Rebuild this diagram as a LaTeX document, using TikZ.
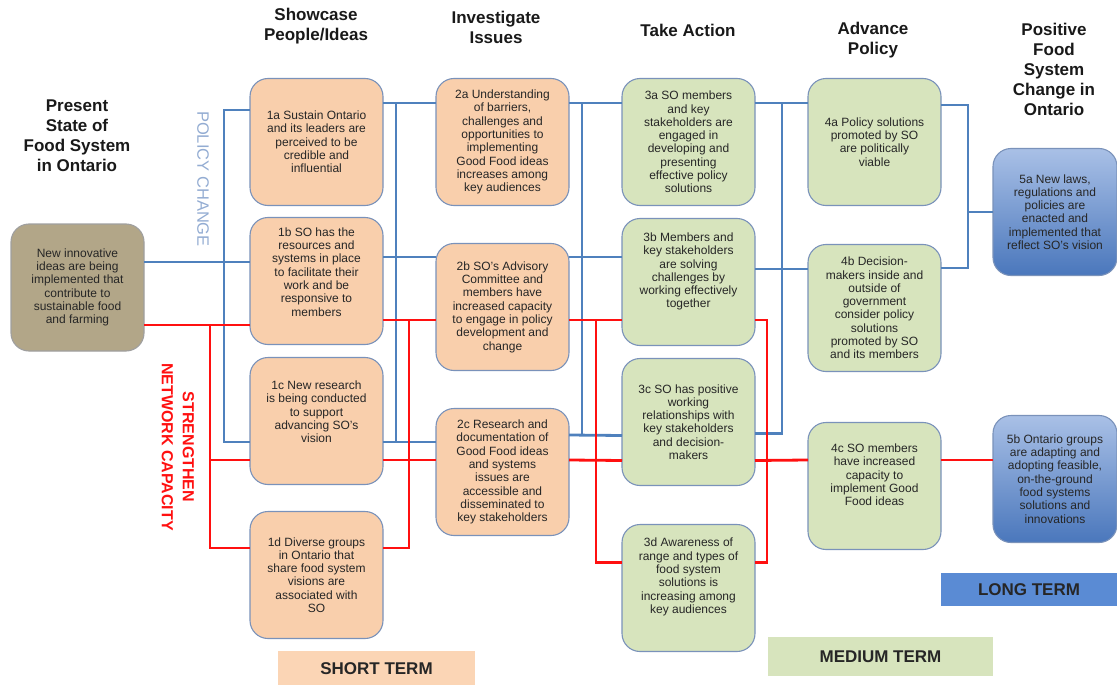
\documentclass[tikz,border=0pt]{standalone}
\usepackage{fontspec}
\setmainfont{Liberation Sans}
\usepackage{tikz}
\usetikzlibrary{positioning}

\definecolor{peach}{HTML}{F9CFAC}
\definecolor{sage}{HTML}{D7E4BD}
\definecolor{khaki}{HTML}{B2A688}
\definecolor{edge}{HTML}{7A92BA}
\definecolor{linkblue}{HTML}{4F81BD}
\definecolor{linkred}{HTML}{FF1010}
\definecolor{skyhi}{HTML}{A9C0E6}
\definecolor{skylo}{HTML}{4A77BC}
\definecolor{termblue}{HTML}{5A8BD4}
\definecolor{termpeach}{HTML}{FBD5B5}
\definecolor{polblue}{HTML}{93ACD2}

\begin{document}
\begin{tikzpicture}[x=1pt,y=-1pt,
  outbox/.style={draw=edge,line width=1.1pt,rounded corners=18pt,minimum width=133pt,minimum height=127pt,inner sep=2pt,outer sep=0pt,align=center,font=\fontsize{12}{13.3}\selectfont,text=black!85},
  shortbox/.style={outbox,fill=peach},
  midbox/.style={outbox,fill=sage},
  longbox/.style={outbox,minimum width=124pt,top color=skyhi,bottom color=skylo},
  colhead/.style={align=center,font=\fontsize{17}{20}\selectfont\bfseries,text=black!90},
  termbar/.style={inner sep=0pt,font=\fontsize{17}{20}\selectfont\bfseries,text=black!85},
  bline/.style={linkblue,line width=2.8pt},
  rline/.style={linkred,line width=2.8pt}]
\useasboundingbox (0,0) rectangle (1117,685);

\node[colhead] (hpres) at (77,135.5) {Present\\State of\\Food System\\in Ontario};
\node[colhead] (hshow) at (316,26.5) {Showcase\\People/Ideas};
\node[colhead] (hinv) at (496,27.5) {Investigate\\Issues};
\node[colhead] (hact) at (688,30) {Take Action};
\node[colhead] (hadv) at (873,40) {Advance\\Policy};
\node[colhead] (hpos) at (1054,69) {Positive\\Food\\System\\Change in\\Ontario};

\node[outbox,fill=khaki,draw=gray!75] (pres) at (77.5,287.5) {New innovative\\ideas are being\\implemented that\\contribute to\\sustainable food\\and farming};

\node[shortbox] (o1a) at (316.5,142) {1a Sustain Ontario\\and its leaders are\\perceived to be\\credible and\\influential};
\node[shortbox,below=12pt of o1a] (o1b) {1b SO has the\\resources and\\systems in place\\to facilitate their\\work and be\\responsive to\\members\\[5pt]~};
\node[shortbox,below=13pt of o1b] (o1c) {1c New research\\is being conducted\\to support\\advancing SO’s\\vision\\[5pt]~};
\node[shortbox,below=27pt of o1c] (o1d) {1d Diverse groups\\in Ontario that\\share food system\\visions are\\associated with\\SO};

\node[shortbox,right=53pt of o1a] (o2a) {2a Understanding\\of barriers,\\challenges and\\opportunities to\\implementing\\Good Food ideas\\increases among\\key audiences};
\node[shortbox,below=38pt of o2a] (o2b) {2b SO’s Advisory\\Committee and\\members have\\increased capacity\\to engage in policy\\development and\\change};
\node[shortbox,below=38pt of o2b] (o2c) {2c Research and\\documentation of\\Good Food ideas\\and systems\\issues are\\accessible and\\disseminated to\\key stakeholders};

\node[midbox,right=53pt of o2a] (o3a) {3a SO members\\and key\\stakeholders are\\engaged in\\developing and\\presenting\\effective policy\\solutions};
\node[midbox,below=13pt of o3a] (o3b) {3b Members and\\key stakeholders\\are solving\\challenges by\\working effectively\\together\\[10pt]~};
\node[midbox,below=13pt of o3b] (o3c) {3c SO has positive\\working\\relationships with\\key stakeholders\\and decision-\\makers};
\node[midbox,below=39pt of o3c] (o3d) {3d Awareness of\\range and types of\\food system\\solutions is\\increasing among\\key audiences\\[11pt]~};

\node[midbox,right=53pt of o3a] (o4a) {4a Policy solutions\\promoted by SO\\are politically\\viable};
\node[midbox,below=39pt of o4a] (o4b) {4b Decision-\\makers inside and\\outside of\\government\\consider policy\\solutions\\promoted by SO\\and its members};
\node[midbox,below=51pt of o4b] (o4c) {4c SO members\\have increased\\capacity to\\implement Good\\Food ideas\\[9pt]~};

\node[longbox] (o5a) at (1055,212) {5a New laws,\\regulations and\\policies are\\enacted and\\implemented that\\reflect SO’s vision};
\node[longbox] (o5b) at (1055,479) {5b Ontario groups\\are adapting and\\adopting feasible,\\on-the-ground\\food systems\\solutions and\\innovations};

\node[rotate=-90,text=polblue,font=\fontsize{16.5}{20}\selectfont] (polchg) at (203,179) {POLICY CHANGE};
\node[rotate=-90,align=center,text=linkred,font=\fontsize{16}{21}\selectfont\bfseries] (netcap) at (178,447) {STRENGTHEN\\NETWORK CAPACITY};

\draw[bline] ([yshift=25.5pt]pres.east) -- ([yshift=19pt]o1b.west);
\draw[bline] ([yshift=32pt]o1a.west) -- ++(-26,0) |- ([yshift=-21pt]o1c.west);
\draw[bline] ([yshift=39pt]o1a.east) -- ([yshift=39pt]o2a.west);
\draw[bline] ([yshift=24pt]o1b.east) -- ([yshift=50pt]o2b.west);
\draw[bline] ([yshift=-21pt]o1c.east) -- ([yshift=30pt]o2c.west);
\draw[bline] ([yshift=39pt]o1a.east) -- ++(13,0) |- ([yshift=-21pt]o1c.east);
\draw[bline] ([yshift=39pt]o2a.east) -- ([yshift=39pt]o3a.west);
\draw[bline] ([yshift=50pt]o2b.east) -- ([yshift=25pt]o3b.west);
\draw[bline] ([yshift=37pt]o2c.east) -- ([yshift=-13.5pt]o3c.west);
\draw[bline] ([yshift=39pt]o2a.east) -- ++(13,0) |- ([yshift=37pt]o2c.east);
\draw[bline] ([yshift=39pt]o3a.east) -- ([yshift=39pt]o4a.west);
\draw[bline] ([yshift=13pt]o3b.east) -- ([yshift=39pt]o4b.west);
\draw[bline] ([yshift=39pt]o3a.east) -- ++(27,0) |- ([yshift=-11.5pt]o3c.east);
\draw[bline] ([yshift=37pt]o4a.east) -- ++(27,0) |- ([yshift=40pt]o4b.east);
\draw[bline] (o5a.west) -- ++(-25,0);

\draw[rline] ([yshift=-37.5pt]pres.east) -- ([yshift=-44pt]o1b.west);
\draw[rline] ([yshift=-44pt]o1b.west) -- ++(-40,0) |- ([yshift=27pt]o1d.west);
\draw[rline] ([yshift=-39pt]o1c.west) -- ++(-40,0);
\draw[rline] ([yshift=-39pt]o1b.east) -- ([yshift=-13pt]o2b.west);
\draw[rline] ([yshift=-39pt]o1c.east) -- ([yshift=12pt]o2c.west);
\draw[rline] ([yshift=-39pt]o1b.east) -- ++(26,0) |- ([yshift=27pt]o1d.east);
\draw[rline] ([yshift=-13pt]o2b.east) -- ([yshift=-38pt]o3b.west);
\draw[rline] ([yshift=12pt]o2c.east) -- ([yshift=-38.5pt]o3c.west);
\draw[rline] ([yshift=-13pt]o2b.east) -- ++(27,0) |- ([yshift=25.5pt]o3d.west);
\draw[rline] ([yshift=-38.5pt]o3c.east) -- ([yshift=26pt]o4c.west);
\draw[rline] ([yshift=-38pt]o3b.east) -- ++(12,0) |- ([yshift=25.5pt]o3d.east);
\draw[rline] ([yshift=26pt]o4c.east) -- ([yshift=19pt]o5b.west);

\node[termbar,fill=termpeach,minimum width=197pt,minimum height=36pt] (tshort) at (376.5,669) {SHORT TERM};
\node[termbar,fill=sage,minimum width=225pt,minimum height=39pt] (tmed) at (880.5,656.5) {MEDIUM TERM};
\node[termbar,fill=termblue,minimum width=176pt,minimum height=33pt] (tlong) at (1029,589.5) {LONG TERM};
\end{tikzpicture}
\end{document}
